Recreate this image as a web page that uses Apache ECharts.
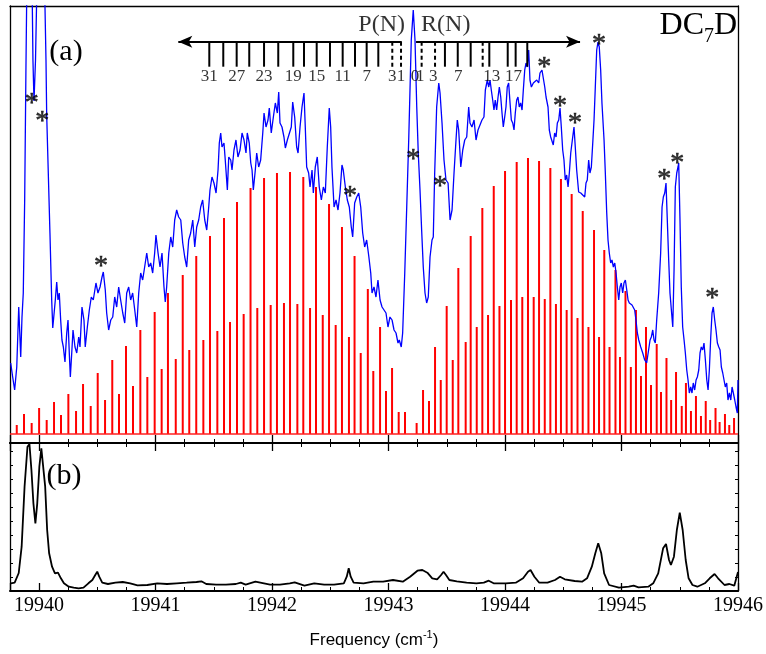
<!DOCTYPE html>
<html><head><meta charset="utf-8">
<script src="https://cdn.jsdelivr.net/npm/echarts@6/dist/echarts.min.js"></script>
<style>html,body{margin:0;padding:0;background:#fff}#c{width:766px;height:654px}</style>
</head><body><div id="c"></div>
<script>
// ---------- data (frequency in cm^-1, intensity in arbitrary units) ----------
const X_MIN = 19939.75, X_MAX = 19946;
// panel (a): measured spectrum (blue)
const blueSpectrum = [
[19939.756,71],[19939.773,57],[19939.790,44],[19939.808,67],[19939.825,127],[19939.842,77],[19939.853,117],[19939.864,141],[19939.876,234],[19939.887,367],[19939.896,464],[19939.917,494],[19939.939,454],[19939.947,374],[19939.956,333],[19939.969,374],[19939.982,454],[19940.016,494],[19940.046,454],[19940.059,374],[19940.065,319],[19940.093,201],[19940.108,134],[19940.117,106],[19940.128,104],[19940.139,134],[19940.151,152],[19940.162,134],[19940.173,141],[19940.185,114],[19940.196,94],[19940.208,87],[19940.222,72],[19940.237,101],[19940.248,114],[19940.259,81],[19940.268,57],[19940.280,81],[19940.291,104],[19940.308,87],[19940.323,81],[19940.340,97],[19940.351,87],[19940.368,127],[19940.385,114],[19940.396,87],[19940.414,107],[19940.431,124],[19940.448,137],[19940.465,134],[19940.488,151],[19940.505,141],[19940.523,147],[19940.540,157],[19940.551,162],[19940.568,144],[19940.580,121],[19940.597,104],[19940.615,114],[19940.632,117],[19940.649,137],[19940.666,127],[19940.683,147],[19940.700,134],[19940.718,121],[19940.735,111],[19940.752,141],[19940.769,147],[19940.786,134],[19940.803,141],[19940.821,124],[19940.838,107],[19940.855,141],[19940.872,161],[19940.889,154],[19940.906,167],[19940.924,181],[19940.941,167],[19940.958,171],[19940.975,161],[19940.992,181],[19941.003,199],[19941.021,181],[19941.038,167],[19941.055,181],[19941.072,147],[19941.083,132],[19941.095,147],[19941.113,181],[19941.130,197],[19941.147,187],[19941.164,214],[19941.181,224],[19941.198,217],[19941.216,214],[19941.233,191],[19941.250,177],[19941.267,167],[19941.284,194],[19941.301,201],[19941.319,214],[19941.336,187],[19941.353,207],[19941.370,214],[19941.387,227],[19941.404,234],[19941.422,214],[19941.439,204],[19941.456,227],
[19941.467,244],[19941.484,257],[19941.501,251],[19941.519,241],[19941.536,264],[19941.547,291],[19941.559,301],[19941.570,287],[19941.587,291],[19941.598,274],[19941.616,244],[19941.628,277],[19941.645,274],[19941.656,264],[19941.673,284],[19941.690,294],[19941.707,277],[19941.725,284],[19941.742,301],[19941.759,294],[19941.776,281],[19941.787,301],[19941.804,291],[19941.817,271],[19941.828,264],[19941.839,244],[19941.856,264],[19941.868,281],[19941.885,267],[19941.902,274],[19941.920,301],[19941.931,321],[19941.948,307],[19941.965,314],[19941.976,326],[19941.993,301],[19942.011,317],[19942.028,331],[19942.045,321],[19942.057,342],[19942.068,311],[19942.085,307],[19942.102,297],[19942.114,286],[19942.131,294],[19942.148,294],[19942.165,307],[19942.177,332],[19942.194,317],[19942.211,287],[19942.223,281],[19942.240,307],[19942.257,327],[19942.274,341],[19942.285,307],[19942.297,267],[19942.314,261],[19942.326,247],[19942.343,264],[19942.354,241],[19942.371,267],[19942.388,277],[19942.405,247],[19942.423,234],[19942.440,247],[19942.457,241],[19942.474,287],[19942.491,326],[19942.503,307],[19942.514,267],[19942.532,227],[19942.549,234],[19942.566,224],[19942.583,241],[19942.600,269],[19942.611,264],[19942.629,247],[19942.646,234],[19942.663,227],[19942.680,207],[19942.692,197],[19942.709,231],[19942.727,237],[19942.744,241],[19942.761,227],[19942.778,201],[19942.795,187],[19942.812,194],[19942.830,178],
[19942.847,161],[19942.858,141],[19942.875,147],[19942.892,137],[19942.909,154],[19942.927,134],[19942.944,127],[19942.961,127],[19942.978,121],[19942.995,107],[19943.012,117],[19943.030,114],[19943.047,104],[19943.064,101],[19943.081,91],[19943.092,94],[19943.109,87],[19943.121,101],[19943.139,161],[19943.156,227],[19943.173,294],[19943.184,344],[19943.195,394],[19943.212,424],[19943.227,394],[19943.242,327],[19943.255,281],[19943.270,244],[19943.284,204],[19943.298,167],[19943.313,141],[19943.327,131],[19943.341,137],[19943.356,177],[19943.373,194],[19943.384,197],[19943.396,261],[19943.413,327],[19943.431,351],[19943.442,341],[19943.459,311],[19943.476,274],[19943.493,254],[19943.511,251],[19943.528,214],[19943.545,224],[19943.562,261],[19943.579,294],[19943.590,314],[19943.602,304],[19943.620,267],[19943.637,284],[19943.654,294],[19943.671,297],[19943.688,327],[19943.699,311],[19943.716,307],[19943.734,314],[19943.751,294],[19943.768,304],[19943.785,304],[19943.802,314],[19943.819,317],
[19943.831,344],[19943.848,354],[19943.860,347],[19943.871,354],[19943.882,344],[19943.894,334],[19943.905,324],[19943.916,334],[19943.928,324],[19943.940,337],[19943.951,347],[19943.963,337],[19943.974,321],[19943.985,307],[19943.997,317],[19944.008,327],[19944.019,347],[19944.031,351],[19944.043,331],[19944.054,314],[19944.066,311],[19944.077,304],[19944.088,321],[19944.100,334],[19944.111,337],[19944.122,327],[19944.134,331],[19944.146,324],[19944.157,344],[19944.169,364],[19944.180,371],[19944.191,367],[19944.203,384],[19944.214,354],[19944.226,347],[19944.243,351],[19944.260,352],[19944.272,354],[19944.289,351],[19944.300,361],[19944.317,364],[19944.329,366],[19944.341,347],[19944.352,337],[19944.369,327],[19944.380,304],[19944.392,297],[19944.403,299],[19944.414,289],[19944.426,301],[19944.438,297],[19944.449,311],[19944.461,314],[19944.472,326],[19944.483,307],[19944.495,284],[19944.506,274],[19944.517,254],[19944.529,259],[19944.541,247],[19944.552,261],[19944.564,281],[19944.581,297],[19944.592,307],[19944.603,287],[19944.615,264],[19944.632,242],[19944.650,241],[19944.667,239],[19944.684,237],[19944.695,251],[19944.706,254],[19944.718,274],[19944.729,261],[19944.741,267],[19944.753,291],[19944.764,314],[19944.775,347],[19944.787,384],[19944.798,392],[19944.809,387],[19944.821,364],[19944.832,331],[19944.850,294],[19944.861,261],[19944.873,221],[19944.884,194],[19944.895,181],[19944.907,171],[19944.918,174],[19944.930,167],[19944.942,171],[19944.953,161],[19944.964,147],[19944.976,134],[19944.987,147],[19944.998,151],[19945.010,141],[19945.021,151],[19945.033,154],[19945.045,144],[19945.056,134],[19945.067,131],[19945.090,129],[19945.113,124],[19945.124,114],[19945.136,101],[19945.148,94],[19945.165,87],[19945.182,81],[19945.199,74],[19945.216,71],[19945.233,71],[19945.245,94],[19945.256,97],[19945.268,104],[19945.279,94],[19945.290,91],[19945.302,114],[19945.319,141],[19945.336,181],[19945.348,227],[19945.359,237],[19945.371,241],[19945.382,251],[19945.393,214],[19945.405,174],[19945.416,141],[19945.428,124],[19945.440,107],[19945.451,164],[19945.462,247],[19945.474,261],[19945.485,267],[19945.491,271],[19945.502,214],[19945.513,147],[19945.525,107],[19945.537,94],[19945.548,81],[19945.560,64],[19945.571,54],[19945.582,41],[19945.594,47],[19945.605,41],[19945.616,51],[19945.628,44],[19945.640,54],[19945.651,57],[19945.663,64],[19945.674,81],[19945.685,87],[19945.697,84],[19945.708,91],[19945.720,74],[19945.732,54],[19945.743,44],[19945.754,64],[19945.766,97],[19945.777,121],[19945.788,127],[19945.800,114],[19945.811,104],[19945.823,91],[19945.835,87],[19945.846,84],[19945.857,67],[19945.869,61],[19945.880,54],[19945.891,47],[19945.903,51],[19945.914,34],[19945.926,41],[19945.938,34],[19945.949,47],[19945.960,41],[19945.972,34],[19945.983,27],[19945.994,21],[19946.0,54]
];
// panel (a): simulated stick spectrum, P branch and R branch
const pBranchSticks = [
[19939.808,9],[19939.870,20],[19939.936,11],[19940.000,26],[19940.065,14],[19940.128,32],[19940.188,19],[19940.251,40],[19940.317,23],[19940.377,50],[19940.443,28],[19940.503,61],[19940.566,34],[19940.628,74],[19940.686,40],[19940.746,88],[19940.806,48],[19940.869,104],[19940.929,57],[19940.992,122],[19941.052,65],[19941.106,141],[19941.173,75],[19941.233,159],[19941.289,84],[19941.349,178],[19941.410,94],[19941.467,198],[19941.530,103],[19941.587,216],[19941.639,112],[19941.699,232],[19941.756,120],[19941.815,246],[19941.873,126],[19941.931,256],[19941.988,129],[19942.042,261],[19942.102,131],[19942.154,262],[19942.217,130],[19942.268,257],[19942.326,126],[19942.377,247],[19942.435,119],[19942.489,230],[19942.546,109],[19942.600,207],[19942.660,97],[19942.708,178],[19942.761,81],[19942.822,145],[19942.869,63],[19942.927,107],[19942.978,43],[19943.030,66],[19943.087,22],[19943.141,22]
];
const rBranchSticks = [
[19943.241,11],[19943.296,44],[19943.347,33],[19943.399,87],[19943.448,54],[19943.499,128],[19943.551,74],[19943.599,166],[19943.662,92],[19943.705,198],[19943.757,107],[19943.805,226],[19943.854,119],[19943.903,248],[19943.952,128],[19944.000,263],[19944.051,134],[19944.100,272],[19944.148,137],[19944.197,276],[19944.246,137],[19944.292,273],[19944.341,135],[19944.389,266],[19944.437,130],[19944.480,255],[19944.529,124],[19944.572,240],[19944.622,116],[19944.667,223],[19944.716,107],[19944.764,204],[19944.807,97],[19944.852,184],[19944.897,87],[19944.948,164],[19944.987,77],[19945.034,143],[19945.080,67],[19945.124,124],[19945.167,58],[19945.210,107],[19945.253,49],[19945.302,90],[19945.339,42],[19945.386,76],[19945.426,34],[19945.468,62],[19945.517,28],[19945.553,51],[19945.596,23],[19945.639,38],[19945.682,18],[19945.723,33],[19945.761,14],[19945.807,26],[19945.842,12],[19945.888,20],[19945.925,9],[19945.966,16]
];
// panel (a): asterisk-marked features
const starMarks = [
[19939.936,337],[19940.027,319],[19940.531,174],[19942.669,244],[19943.212,281],[19943.442,254],[19944.337,373],[19944.472,334],[19944.601,317],[19944.807,396],[19945.367,261],[19945.479,277],[19945.779,142]
];
// assignment ladder: [frequency, dashed(1)/solid(0)]
const ladderPTicks = [[19941.461,0],[19941.581,0],[19941.696,0],[19941.804,0],[19941.931,0],[19942.053,0],[19942.182,0],[19942.274,0],[19942.383,0],[19942.497,0],[19942.606,0],[19942.712,0],[19942.812,0],[19942.912,0],[19943.032,1],[19943.107,1]];
const ladderRTicks = [[19943.284,1],[19943.399,1],[19943.484,0],[19943.594,0],[19943.705,0],[19943.808,1],[19943.865,0],[19944.023,0],[19944.091,0],[19944.191,0]];
const ladderPLabels = [[19941.461,'31'],[19941.696,'27'],[19941.931,'23'],[19942.182,'19'],[19942.383,'15'],[19942.606,'11'],[19942.812,'7'],[19943.032,'3'],[19943.107,'1']];
const ladderRLabels = [[19943.227,'0'],[19943.272,'1'],[19943.384,'3'],[19943.599,'7'],[19943.885,'13'],[19944.073,'17']];
const branchTitles = [[19942.941,'P(N)'],[19943.491,'R(N)']];
const arrowP = [19941.195, 19943.113];
const arrowR = [19943.236, 19944.644];
// panel (b): spectrum (black)
const bottomSpectrum = [
[19939.757,7.7],[19939.790,8.3],[19939.825,18],[19939.850,44.3],[19939.875,104.3],[19939.900,144.3],[19939.917,147],[19939.934,121],[19939.951,87.7],[19939.968,67.7],[19939.984,87.7],[19940.002,124.3],[19940.019,142.7],[19940.035,141],[19940.052,104.3],[19940.069,61],[19940.086,37.7],[19940.111,24.3],[19940.136,17.7],[19940.162,18.3],[19940.187,12.7],[19940.213,7.7],[19940.255,4.3],[19940.297,3.3],[19940.339,2.7],[19940.381,3.3],[19940.423,7.7],[19940.457,11],[19940.482,16],[19940.499,19.3],[19940.516,14.3],[19940.542,8.3],[19940.591,7],[19940.655,8.3],[19940.718,9],[19940.782,7.7],[19940.845,5.7],[19940.929,6],[19941.014,7.7],[19941.098,7],[19941.182,7.7],[19941.266,8.3],[19941.351,9],[19941.393,9.7],[19941.435,7],[19941.519,6.3],[19941.604,6.3],[19941.689,7],[19941.731,8.3],[19941.773,6.3],[19941.857,9.3],[19941.899,8.3],[19941.983,6.3],[19942.068,6.3],[19942.152,7.7],[19942.194,8.7],[19942.278,5.3],[19942.362,7.7],[19942.447,6.3],[19942.532,6.3],[19942.616,7.7],[19942.641,14.3],[19942.658,22.7],[19942.675,14.3],[19942.700,8.3],[19942.785,7.7],[19942.869,9.3],[19942.953,9.3],[19943.038,11],[19943.122,9.3],[19943.185,14.3],[19943.248,20.3],[19943.290,21],[19943.333,18.3],[19943.375,12.7],[19943.417,11.7],[19943.451,16],[19943.472,19.3],[19943.493,16],[19943.522,11],[19943.586,9.7],[19943.670,8.3],[19943.754,7.7],[19943.818,8.3],[19943.860,10.3],[19943.902,7.7],[19944.007,7.7],[19944.092,8.3],[19944.155,12.7],[19944.197,19.3],[19944.219,21],[19944.252,14.3],[19944.294,8.3],[19944.365,8.3],[19944.429,11],[19944.472,14.3],[19944.513,11.7],[19944.598,10],[19944.661,9.3],[19944.704,12.7],[19944.745,24.3],[19944.775,37.7],[19944.800,47.7],[19944.826,37.7],[19944.851,17.7],[19944.893,6],[19944.978,3.3],[19945.062,4.3],[19945.104,5.3],[19945.146,3.7],[19945.230,4.3],[19945.272,7.7],[19945.315,17.7],[19945.357,42.7],[19945.382,47],[19945.408,31],[19945.424,26],[19945.450,34.3],[19945.475,61],[19945.500,78.3],[19945.525,61],[19945.551,31],[19945.576,12.7],[19945.609,6],[19945.651,4.3],[19945.715,7.7],[19945.757,12.7],[19945.799,17],[19945.829,12.7],[19945.884,6],[19945.926,7],[19945.968,5.3],[19946.0,19]
];

// ---------- chart ----------
const SERIF = 'Liberation Serif';
const LADDER_Y = 392.3, LADDER_TICK_END = 367.3, LADDER_LABEL_Y = 357, TITLE_Y = 409;
const chart = echarts.init(document.getElementById('c'), null, {renderer: 'canvas'});

const baseX = {type: 'value', min: X_MIN, max: X_MAX, splitNumber: 6, splitLine: {show: false}};
const blackLine = w => ({show: true, onZero: false, lineStyle: {color: '#000', width: w}});
const inTicks = {show: true, inside: true, length: 8, lineStyle: {color: '#000', width: 1.3}};
const inMinor = {show: true, splitNumber: 4, length: 4, lineStyle: {color: '#000', width: 1}};
const noLabel = {show: false};

function stickRender(params, api) {
  const a = api.coord([api.value(0), 0]);
  const b = api.coord([api.value(0), api.value(1)]);
  return {type: 'line', shape: {x1: a[0], y1: a[1], x2: b[0], y2: b[1]},
          style: {stroke: '#ff0000', lineWidth: 2}};
}
function ladderRender(params, api) {
  const a = api.coord([api.value(0), LADDER_Y]);
  const b = api.coord([api.value(0), LADDER_TICK_END]);
  return {type: 'line', shape: {x1: a[0], y1: a[1], x2: b[0], y2: b[1]},
          style: {stroke: '#000', lineWidth: 2, lineDash: api.value(1) ? [4, 3] : null}};
}
const textLabel = size => ({show: true, position: 'inside', formatter: p => p.data[2],
  fontFamily: SERIF, fontSize: size, color: '#000'});

const option = {
  animation: false,
  backgroundColor: '#fff',
  grid: [
    {left: 10, right: 28, top: 6, height: 437, outerBoundsMode: 'none'},
    {left: 10, right: 28, top: 443, height: 148, outerBoundsMode: 'none'}
  ],
  xAxis: [
    Object.assign({}, baseX, {gridIndex: 0, position: 'bottom', axisLine: blackLine(2), axisTick: inTicks, minorTick: inMinor, axisLabel: noLabel}),
    Object.assign({}, baseX, {gridIndex: 0, position: 'top', axisLine: blackLine(1.3), axisTick: {show: false}, axisLabel: noLabel}),
    Object.assign({}, baseX, {gridIndex: 1, position: 'bottom', axisLine: blackLine(2), axisTick: inTicks, minorTick: inMinor,
      axisLabel: {show: true, color: '#000', fontFamily: SERIF, fontSize: 20, margin: 5,
        formatter: v => (Math.abs(v - Math.round(v)) < 1e-6 ? String(Math.round(v)) : '')},
      name: '{n|Frequency (cm}{s|-1}{n|)}', nameLocation: 'middle', nameGap: 38,
      nameTextStyle: {rich: {
        n: {fontFamily: 'Liberation Sans', fontSize: 17, color: '#000', lineHeight: 20, verticalAlign: 'bottom'},
        s: {fontFamily: 'Liberation Sans', fontSize: 11, color: '#000', lineHeight: 20, verticalAlign: 'top'}}}}),
    Object.assign({}, baseX, {gridIndex: 1, position: 'top', axisLine: blackLine(2), axisTick: inTicks, minorTick: inMinor, axisLabel: noLabel})
  ],
  yAxis: [
    {type: 'value', gridIndex: 0, min: -9, max: 428, position: 'left', axisLine: blackLine(1.3), axisTick: {show: false}, axisLabel: noLabel, splitLine: {show: false}},
    {type: 'value', gridIndex: 0, min: -9, max: 428, position: 'right', axisLine: blackLine(1.3), axisTick: {show: false}, axisLabel: noLabel, splitLine: {show: false}},
    {type: 'value', gridIndex: 1, min: 0, max: 148, interval: 14, position: 'left', axisLine: blackLine(1.3),
      axisTick: {show: true, inside: true, length: 3, lineStyle: {color: '#000', width: 1}}, axisLabel: noLabel, splitLine: {show: false}},
    {type: 'value', gridIndex: 1, min: 0, max: 148, interval: 14, position: 'right', axisLine: blackLine(1.3),
      axisTick: {show: true, inside: true, length: 3, lineStyle: {color: '#000', width: 1}}, axisLabel: noLabel, splitLine: {show: false}}
  ],
  series: [
    {type: 'line', name: 'baseline', xAxisIndex: 0, yAxisIndex: 0, data: [[X_MIN, 0], [X_MAX, 0]],
      symbol: 'none', lineStyle: {color: '#ff2020', width: 1.6}, z: 2, silent: true},
    {type: 'custom', name: 'P sticks', xAxisIndex: 0, yAxisIndex: 0, data: pBranchSticks, renderItem: stickRender, z: 2, silent: true},
    {type: 'custom', name: 'R sticks', xAxisIndex: 0, yAxisIndex: 0, data: rBranchSticks, renderItem: stickRender, z: 2, silent: true},
    {type: 'line', name: 'observed', xAxisIndex: 0, yAxisIndex: 0, data: blueSpectrum, symbol: 'none', clip: true,
      lineStyle: {color: '#0000ff', width: 1.3}, z: 3, silent: true},
    {type: 'scatter', name: 'stars', xAxisIndex: 0, yAxisIndex: 0, data: starMarks, symbolSize: 1,
      itemStyle: {color: 'rgba(0,0,0,0)'}, z: 4, silent: true,
      label: {show: true, position: 'inside', formatter: '*', fontFamily: SERIF, fontSize: 28, color: '#000',
        textBorderColor: '#000', textBorderWidth: 0.6, offset: [0, 7]}},
    {type: 'custom', name: 'P ladder', xAxisIndex: 0, yAxisIndex: 0, data: ladderPTicks, renderItem: ladderRender, z: 5, silent: true},
    {type: 'custom', name: 'R ladder', xAxisIndex: 0, yAxisIndex: 0, data: ladderRTicks, renderItem: ladderRender, z: 5, silent: true},
    {type: 'scatter', name: 'ladder labels', xAxisIndex: 0, yAxisIndex: 0, symbolSize: 1, itemStyle: {color: 'rgba(0,0,0,0)'}, silent: true, z: 5,
      data: ladderPLabels.concat(ladderRLabels).map(d => [d[0], LADDER_LABEL_Y, d[1]]), label: textLabel(17),
      markLine: {silent: true, animation: false, label: {show: false},
        lineStyle: {color: '#000', width: 2, type: 'solid'},
        data: [
          [{coord: [arrowP[0], LADDER_Y], symbol: 'arrow', symbolSize: [9, 14]}, {coord: [arrowP[1], LADDER_Y], symbol: 'none'}],
          [{coord: [arrowR[0], LADDER_Y], symbol: 'none'}, {coord: [arrowR[1], LADDER_Y], symbol: 'arrow', symbolSize: [9, 14]}]
        ]}},
    {type: 'scatter', name: 'branch titles', xAxisIndex: 0, yAxisIndex: 0, symbolSize: 1, itemStyle: {color: 'rgba(0,0,0,0)'}, silent: true, z: 5,
      data: branchTitles.map(d => [d[0], TITLE_Y, d[1]]), label: textLabel(24)},
    {type: 'line', name: 'panel b', xAxisIndex: 2, yAxisIndex: 2, data: bottomSpectrum, symbol: 'none',
      lineStyle: {color: '#000', width: 1.8}, z: 3, silent: true}
  ],
  graphic: [
    {type: 'text', x: 66, y: 52, style: {text: '(a)', fontFamily: SERIF, fontSize: 30, fill: '#000', align: 'center', verticalAlign: 'middle'}},
    {type: 'text', x: 64, y: 476, style: {text: '(b)', fontFamily: SERIF, fontSize: 30, fill: '#000', align: 'center', verticalAlign: 'middle'}},
    {type: 'text', x: 704, y: 26, style: {text: 'DC', fontFamily: SERIF, fontSize: 32, fill: '#000', align: 'right', verticalAlign: 'middle'}},
    {type: 'text', x: 704, y: 37, style: {text: '7', fontFamily: SERIF, fontSize: 20, fill: '#000', align: 'left', verticalAlign: 'middle'}},
    {type: 'text', x: 714, y: 26, style: {text: 'D', fontFamily: SERIF, fontSize: 32, fill: '#000', align: 'left', verticalAlign: 'middle'}}
  ]
};
chart.setOption(option);
</script></body></html>
